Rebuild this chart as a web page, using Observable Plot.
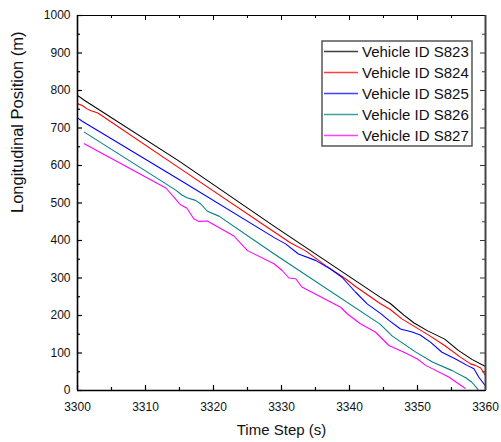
<!DOCTYPE html>
<html>
<head>
<meta charset="utf-8">
<script src="https://cdn.jsdelivr.net/npm/d3@7"></script>
<script src="https://cdn.jsdelivr.net/npm/@observablehq/plot@0.6"></script>
<style>
  html, body { margin: 0; padding: 0; background: #fff; }
  #chart { position: relative; width: 501px; height: 442px; }
</style>
</head>
<body>
<div id="chart"></div>
<script>
// Vehicle trajectories: time step (s) and longitudinal position (m)
const vehicles = ["Vehicle ID S823", "Vehicle ID S824", "Vehicle ID S825", "Vehicle ID S826", "Vehicle ID S827"];
const colors = ["#000000", "#ff0000", "#0000ff", "#008080", "#ff00ff"];

const t823 = [3300, 3301, 3315, 3329, 3344.5, 3346, 3348, 3349.5, 3351.5, 3354, 3356, 3358, 3360];
const p823 = [787, 774, 611, 437, 249, 232, 201, 180, 159, 137, 107, 83, 64];

const t824 = [3300, 3300.7, 3301.4, 3302, 3303, 3315, 3329, 3331.3, 3333.5, 3336.5, 3339.4, 3341, 3344.5, 3346, 3347.7, 3349.7, 3351.7, 3354, 3356.3, 3357.8, 3358.5, 3359.3, 3360];
const p824 = [765, 760, 751, 746, 740, 593, 422, 394, 373, 333, 298, 276, 232, 216, 191, 169, 147, 120, 89, 71, 67, 60, 40];

const t825 = [3300, 3300.7, 3315, 3329, 3330.6, 3332.5, 3335, 3337.2, 3338.9, 3340.9, 3342.6, 3344.6, 3345.8, 3347.5, 3349.2, 3350.4, 3351.9, 3353.6, 3355.6, 3357.3, 3358.3, 3359, 3360];
const p825 = [727, 718, 562, 407, 391, 364, 347, 324, 302, 262, 231, 205, 187, 164, 156, 148, 129, 102, 84, 67, 58, 36, 12];

const t826 = [3301, 3314.4, 3315.3, 3316.1, 3317.35, 3318.1, 3319.1, 3320.8, 3329.1, 3344.5, 3346.3, 3349.7, 3352.2, 3355.1, 3357.1, 3358, 3358.9];
const p826 = [689, 535, 522, 514, 507, 498, 478, 465, 362, 177, 145, 103, 76, 53, 34, 22, 3];

const t827 = [3301, 3313, 3314.4, 3315.1, 3316.1, 3317.1, 3317.8, 3319.1, 3323, 3325, 3328.9, 3330.1, 3331.1, 3332.1, 3333, 3338.7, 3339.7, 3341.6, 3343.8, 3345.8, 3348, 3350, 3351.2, 3354.6, 3357];
const p827 = [658, 540, 511, 496, 486, 458, 451, 452, 412, 373, 338, 320, 300, 298, 276, 222, 204, 178, 156, 120, 102, 84, 67, 36, 6];

const xMajor = [3300, 3310, 3320, 3330, 3340, 3350, 3360];
const xMinor = [3305, 3315, 3325, 3335, 3345, 3355];
const yMajor = [0, 100, 200, 300, 400, 500, 600, 700, 800, 900, 1000];
const yMinor = [50, 150, 250, 350, 450, 550, 650, 750, 850, 950];

const times = [t823, t824, t825, t826, t827];
const positions = [p823, p824, p825, p826, p827];
const rows = vehicles.flatMap((name, i) =>
  times[i].map((t, j) => ({name, t, p: positions[i][j]}))
);

const W = 501, H = 442;
const mL = 77, mR = 16, mT = 15, mB = 52;
const plotW = W - mL - mR, plotH = H - mT - mB;
const majorLen = 5, minorLen = 3;
const plain = d3.format("d");

const chart = Plot.plot({
  width: W,
  height: H,
  marginLeft: mL,
  marginRight: mR,
  marginTop: mT,
  marginBottom: mB,
  style: {fontFamily: "'Liberation Sans', Arial, sans-serif", fontSize: "12px", background: "#fff", color: "#111"},
  x: {domain: [3300, 3360], label: null},
  y: {domain: [0, 1000], label: null},
  color: {domain: vehicles, range: colors},
  marks: [
    // tick labels
    Plot.axisX(xMajor, {tickSize: 0, tickPadding: 12, fontSize: 12, tickFormat: plain, label: null}),
    Plot.axisY(yMajor, {tickSize: 0, tickPadding: 7, fontSize: 12, tickFormat: plain, label: null}),
    // inward ticks on all four sides
    Plot.ruleX(xMajor, {x: d => d, insetTop: plotH - majorLen, stroke: "#000", strokeWidth: 1.2}),
    Plot.ruleX(xMinor, {x: d => d, insetTop: plotH - minorLen, stroke: "#000", strokeWidth: 1.2}),
    Plot.ruleX(xMajor, {x: d => d, insetBottom: plotH - majorLen, stroke: "#000", strokeWidth: 1}),
    Plot.ruleX(xMinor, {x: d => d, insetBottom: plotH - minorLen, stroke: "#000", strokeWidth: 1}),
    Plot.ruleY(yMajor, {y: d => d, insetRight: plotW - majorLen, stroke: "#000", strokeWidth: 1.2}),
    Plot.ruleY(yMinor, {y: d => d, insetRight: plotW - minorLen, stroke: "#000", strokeWidth: 1.2}),
    Plot.ruleY(yMajor, {y: d => d, insetLeft: plotW - majorLen, stroke: "#333", strokeWidth: 1}),
    Plot.ruleY(yMinor, {y: d => d, insetLeft: plotW - minorLen, stroke: "#333", strokeWidth: 1}),
    // trajectories
    Plot.line(rows, {x: "t", y: "p", z: "name", stroke: "name", strokeWidth: 1.1, curve: "linear"}),
    // plot frame
    Plot.frame({stroke: "#000", strokeWidth: 1}),
    Plot.ruleX([3300], {stroke: "#000", strokeWidth: 1.6}),
    Plot.ruleY([0], {stroke: "#000", strokeWidth: 1.6}),
    Plot.ruleX([3360], {stroke: "#444", strokeWidth: 2}),
    // axis titles
    Plot.text(["Time Step (s)"], {frameAnchor: "bottom", dy: 44, lineAnchor: "bottom", fontSize: 15, fill: "#111"}),
    Plot.text(["Longitudinal Position (m)"], {frameAnchor: "left", dx: -55, dy: 10, rotate: -90, lineAnchor: "bottom", fontSize: 16.5, fill: "#111"})
  ]
});

document.getElementById("chart").appendChild(chart);

// legend box in the upper right of the plot area
const svg = d3.select(chart);
const lg = svg.append("g")
  .attr("font-family", "'Liberation Sans', Arial, sans-serif")
  .attr("text-anchor", "start");
const lx = 322, ly = 41, lw = 150, lh = 105;
lg.append("rect")
  .attr("x", lx).attr("y", ly).attr("width", lw).attr("height", lh)
  .attr("fill", "#fff").attr("stroke", "#555").attr("stroke-width", 1.5);
vehicles.forEach((name, i) => {
  const cy = 51.5 + i * 21;
  lg.append("line")
    .attr("x1", 324).attr("x2", 358).attr("y1", cy).attr("y2", cy)
    .attr("stroke", colors[i]).attr("stroke-width", 1.5).attr("stroke-opacity", 0.75);
  lg.append("text")
    .attr("x", 362).attr("y", cy + 5.5)
    .attr("text-anchor", "start")
    .attr("font-size", 15).attr("fill", "#111")
    .text(name);
});
</script>
</body>
</html>
